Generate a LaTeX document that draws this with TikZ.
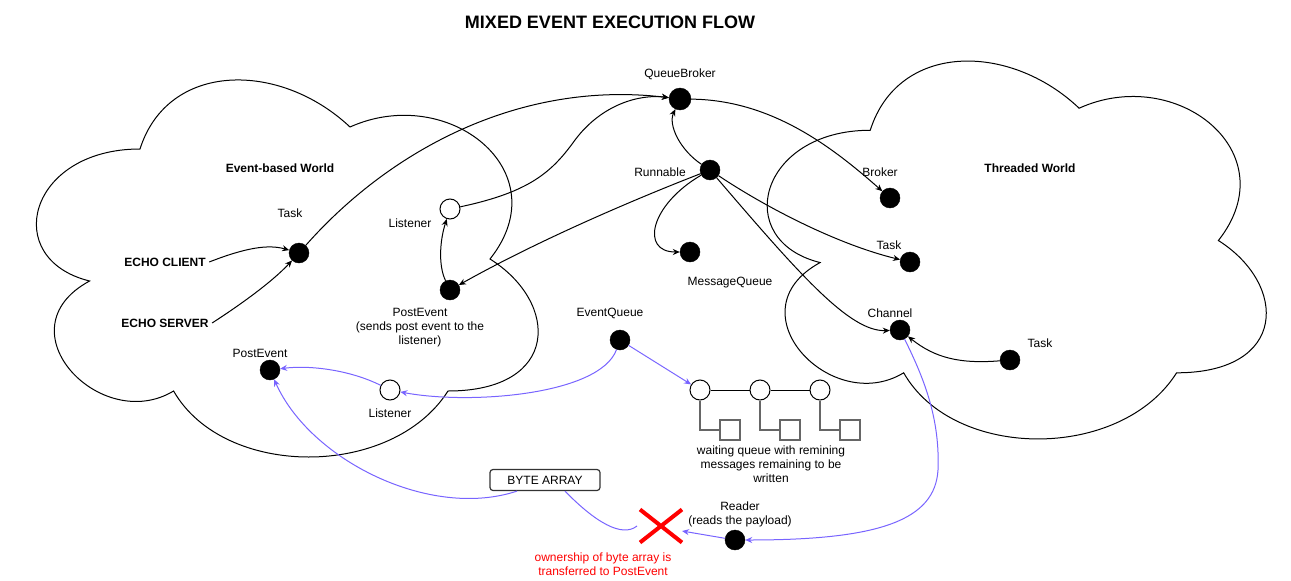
\documentclass[tikz,border=0pt]{standalone}
\usepackage{fontspec}
\setmainfont{Liberation Sans}
\usetikzlibrary{arrows.meta,shapes.misc}

\definecolor{flowblue}{RGB}{120,100,255}
\definecolor{qgray}{RGB}{102,102,102}

\tikzset{
  worldcloud/.pic={
    \draw[line width=1pt] (0.25,0.25) .. controls (0.05,0.25) and (0,0.5) .. (0.16,0.55)
      .. controls (0,0.66) and (0.18,0.9) .. (0.31,0.8)
      .. controls (0.4,1) and (0.7,1) .. (0.8,0.8)
      .. controls (1,0.8) and (1,0.6) .. (0.875,0.5)
      .. controls (1,0.3) and (0.8,0.1) .. (0.625,0.2)
      .. controls (0.5,0.05) and (0.3,0.05) .. (0.25,0.25) -- cycle;
  }
}

\begin{document}
\begin{tikzpicture}[x=1pt, y=-1pt,
    every node/.style={font=\fontsize{12}{14}\selectfont},
    blackdot/.style={circle, draw, fill=black, minimum size=20pt, inner sep=0pt},
    whitedot/.style={circle, draw, fill=white, line width=1pt, minimum size=20pt, inner sep=0pt},
    msgbox/.style={draw=qgray, line width=1.5pt, minimum size=20pt, inner sep=0pt},
    boldlbl/.style={font=\bfseries\fontsize{12}{14}\selectfont},
    flow/.style={line width=1pt, -{Stealth[length=7pt,width=6pt]}},
    bflow/.style={flow, draw=flowblue}]
  \useasboundingbox (0,0) rectangle (1291,581);

  % the two worlds
  \pic[xscale=560, yscale=440] at (0,39) {worldcloud};
  \pic[xscale=557, yscale=441] at (731,20) {worldcloud};

  \node[font=\bfseries\fontsize{18}{20}\selectfont] (title) at (610,22) {MIXED EVENT EXECUTION FLOW};
  \node[boldlbl] (evworld) at (280,168) {Event-based World};
  \node[boldlbl] (thworld) at (1030,168) {Threaded World};

  % event-based side
  \node[boldlbl] (eclient) at (165,262) {ECHO CLIENT};
  \node[boldlbl] (eserver) at (165,323) {ECHO SERVER};
  \node[blackdot] (etask) at (299,253) {};
  \node (etasklbl) at (290,213) {Task};
  \node[whitedot] (lsntop) at (450,209) {};
  \node (lsntoplbl) at (410,223) {Listener};
  \node[blackdot] (pevmid) at (450,290) {};
  \node[align=center] (pevmidlbl) at (420,328) {PostEvent\\(sends post event to the\\listener)};
  \node[blackdot] (pevleft) at (270,370) {};
  \node (pevleftlbl) at (260,353) {PostEvent};
  \node[whitedot] (lsnbot) at (390,390) {};
  \node (lsnbotlbl) at (390,413) {Listener};

  % middle
  \node[blackdot, minimum size=22pt] (qbroker) at (680,99) {};
  \node (qbrokerlbl) at (680,74) {QueueBroker};
  \node[blackdot] (runnable) at (710,170) {};
  \node (runnablelbl) at (660,172) {Runnable};
  \node[blackdot] (msgq) at (690,252) {};
  \node (msgqlbl) at (730,283) {MessageQueue};
  \node[blackdot] (evq) at (620,340) {};
  \node (evqlbl) at (610,313) {EventQueue};

  % threaded side
  \node[blackdot] (broker) at (890,198) {};
  \node (brokerlbl) at (880,172) {Broker};
  \node[blackdot] (ttask) at (910,262) {};
  \node (ttasklbl) at (889,245) {Task};
  \node[blackdot] (channel) at (900,330) {};
  \node (channellbl) at (890,313) {Channel};
  \node[blackdot] (ttask2) at (1010,360) {};
  \node (ttask2lbl) at (1040,343) {Task};

  % waiting queue
  \foreach \i/\x in {1/700,2/760,3/820} {
    \node[whitedot] (q\i) at (\x,390) {};
    \node[msgbox] (m\i) at (\x+30,430) {};
    \draw[qgray, line width=1.5pt] (q\i) |- (m\i);
  }
  \draw[line width=1pt] (q1) -- (q2) (q2) -- (q3);
  \node[align=center] (waitlbl) at (771,464) {waiting queue with remining\\messages remaining to be\\written};

  % bottom
  \node[draw=black!80, line width=1.2pt, rounded corners=3pt, minimum width=110pt, minimum height=21pt, inner sep=0pt] (bytearr) at (545,480) {BYTE ARRAY};
  \node[cross out, draw=red, line width=4pt, minimum width=38pt, minimum height=29pt, inner sep=0pt] (xmark) at (661,526) {};
  \node[text=red, align=center] (ownlbl) at (603,564) {ownership of byte array is\\transferred to PostEvent};
  \node[blackdot] (reader) at (735,540) {};
  \node[align=center] (readerlbl) at (740,514) {Reader\\(reads the payload)};

  % black flows
  \draw[flow] (eclient.east) .. controls (245,248) and (268,244) .. (etask);
  \draw[flow] (eserver.east) .. controls (240,305) and (272,282) .. (etask);
  \draw[flow] (etask) .. controls (390,150) and (520,80) .. (qbroker);
  \draw[flow] (lsntop) .. controls (530,192) and (552,172) .. (575,140) .. controls (602,104) and (640,94) .. (qbroker);
  \draw[flow] (pevmid) .. controls (438,265) and (440,240) .. (lsntop);
  \draw[flow] (runnable) .. controls (620,205) and (530,245) .. (pevmid);
  \draw[flow] (runnable) .. controls (680,150) and (668,125) .. (qbroker);
  \draw[flow] (runnable) .. controls (650,205) and (640,252) .. (msgq);
  \draw[flow] (qbroker) .. controls (770,100) and (830,145) .. (broker);
  \draw[flow] (runnable) .. controls (770,210) and (840,245) .. (ttask);
  \draw[flow] (runnable) .. controls (800,275) and (850,332) .. (channel);
  \draw[flow] (ttask2) .. controls (960,364) and (935,358) .. (channel);

  % blue flows
  \draw[bflow] (evq) .. controls (600,395) and (470,405) .. (lsnbot);
  \draw[bflow] (lsnbot) .. controls (350,370) and (310,365) .. (pevleft);
  \draw[bflow] (evq) -- (q1);
  \draw[bflow] ([xshift=-28pt]bytearr.south) .. controls (430,520) and (310,460) .. (pevleft);
  \draw[flowblue, line width=1pt] ([xshift=20pt]bytearr.south) .. controls (595,522) and (622,538) .. ([xshift=-3pt]xmark.west);
  \draw[bflow] (reader) -- ([yshift=-5pt]xmark.east);
  \draw[bflow] (channel) .. controls (925,380) and (940,420) .. (938,470) .. controls (935,520) and (880,540) .. (reader);
\end{tikzpicture}
\end{document}
